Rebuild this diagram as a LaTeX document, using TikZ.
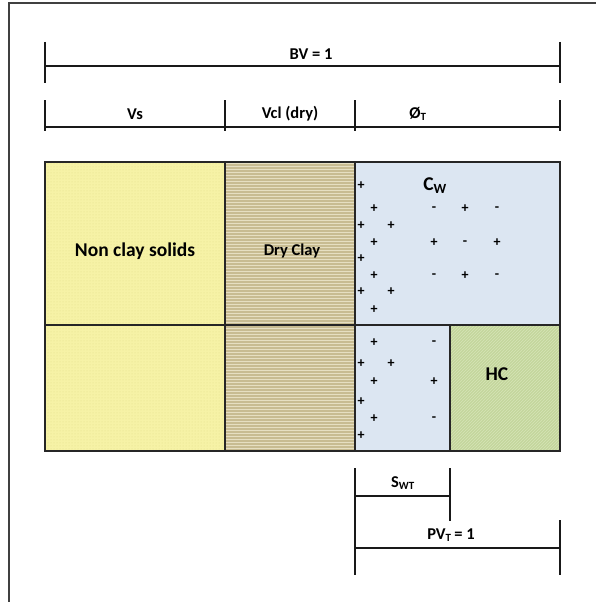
\documentclass[tikz,border=0pt]{standalone}
\usepackage{fontspec}
\setmainfont{Carlito}
\usetikzlibrary{patterns}
\definecolor{ncs}{HTML}{F6F2A6}
\definecolor{ncsdot}{HTML}{E4DE8C}
\definecolor{clay}{HTML}{C8BC92}
\definecolor{clayline}{HTML}{E6DFC2}
\definecolor{water}{HTML}{DCE6F2}
\definecolor{hcg}{HTML}{C4D69C}
\definecolor{hcline}{HTML}{D6E4B6}
\tikzset{
  dimline/.style={line width=2.6pt, black!90},
  cell/.style={draw=black!85, line width=1.4pt},
  lbl/.style={font=\bfseries\fontsize{16.5}{18}\selectfont, inner sep=0pt},
  biglbl/.style={font=\bfseries\fontsize{19.5}{22}\selectfont, inner sep=0pt},
  ion/.style={font=\bfseries\fontsize{14}{14}\selectfont, inner sep=0pt}
}
\begin{document}
\begin{tikzpicture}[x=1pt,y=-1pt]
\useasboundingbox (0,0) rectangle (596,602);
% frame
\draw[black!75, line width=1.2pt] (9,602) -- (9,3) -- (596,3);

% BV row
\coordinate (bvL) at (45,66); \coordinate (bvR) at (560,66);
\draw[dimline] (45,42) -- (45,83);
\draw[dimline] (560,42) -- (560,83);
\draw[dimline] (bvL) -- (bvR);
\node[lbl] (bv) at (311,54) {BV = 1};

% component row
\draw[dimline] (45,100) -- (45,131);
\draw[dimline] (225,100) -- (225,131);
\draw[dimline] (355,100) -- (355,131);
\draw[dimline] (560,100) -- (560,131);
\draw[dimline] (45,127) -- (560,127);
\node[lbl] (vs) at (135,114) {Vs};
\node[lbl] (vcl) at (290,114) {Vcl (dry)};
\node[lbl] (phi) at (418,114) {Ø\textsubscript{\fontsize{11}{11}\selectfont T}};

% cells
\fill[ncs] (45,162) rectangle (225,451);
\fill[pattern=dots, pattern color=ncsdot] (45,162) rectangle (225,451);
\fill[clay] (225,162) rectangle (355,451);
\fill[pattern=horizontal lines, pattern color=clayline] (225,162) rectangle (355,451);
\fill[water] (355,162) rectangle (560,451);
\fill[hcg] (450,325) rectangle (560,451);
\fill[pattern=north east lines, pattern color=hcline] (450,325) rectangle (560,451);
\draw[cell] (45,162) rectangle (560,451);
\draw[cell] (45,325) -- (560,325);
\draw[cell] (225,162) -- (225,451);
\draw[cell] (355,162) -- (355,451);
\draw[cell] (450,325) -- (450,451);

\node[biglbl] (ncslbl) at (135,251) {Non clay solids};
\node[lbl] (dclbl) at (292,251) {Dry Clay};
\node[biglbl] (cw) at (435,186) {C\textsubscript{\fontsize{14}{14}\selectfont W}};
\node[biglbl] (hc) at (497,374) {HC};

% ions
\foreach \x/\y [count=\i] in {361/186,374/209,361/226,391/226,374/243,361/259,374/276,361/292,391/292,374/310,465/209,434/243,497/243,465/276,374/343,361/364,391/364,374/382,434/382,361/402,374/419,361/436}
  \node[ion] (p\i) at (\x,\y) {+};
\foreach \x/\y [count=\i] in {434/209,497/209,465/243,434/276,497/276,434/343,434/419}
  \node[ion] (m\i) at (\x,\y) {-};

% bottom dimensions
\draw[dimline] (355,468) -- (355,575);
\draw[dimline] (450,468) -- (450,521);
\draw[dimline] (560,520) -- (560,575);
\draw[dimline] (355,496) -- (450,496);
\draw[dimline] (355,548) -- (560,548);
\node[lbl] (swt) at (403,483) {S\textsubscript{\fontsize{11}{11}\selectfont WT}};
\node[lbl] (pvt) at (451,535) {PV\textsubscript{\fontsize{11}{11}\selectfont T}\,= 1};
\end{tikzpicture}
\end{document}
